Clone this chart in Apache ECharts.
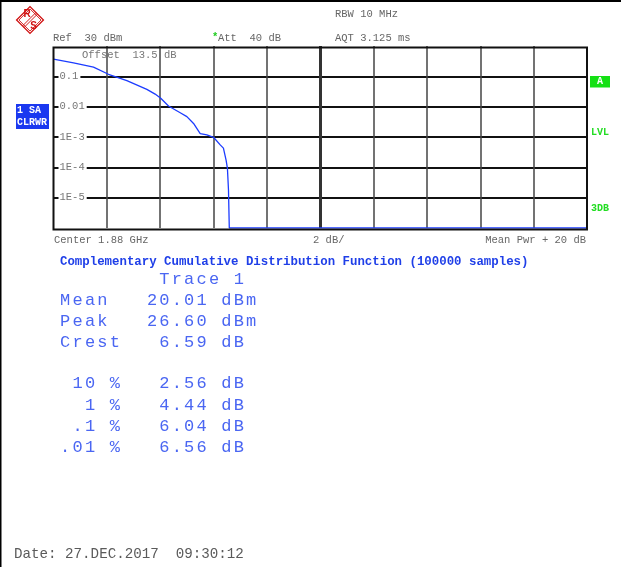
<!DOCTYPE html>
<html>
<head>
<meta charset="utf-8">
<script src="https://cdn.jsdelivr.net/npm/echarts@6/dist/echarts.min.js"></script>
<style>
html,body{margin:0;padding:0;background:#fff;}
#chart{width:621px;height:567px;}
</style>
</head>
<body>
<div id="chart"></div>
<script>
// ---- data ----
var ccdfDb   = [0, 0.75, 1.5, 2.06, 2.75, 3.5, 3.81, 4.02, 4.31, 4.75, 5.0, 5.25, 5.5, 5.75, 6.0, 6.25, 6.37, 6.47, 6.52, 6.56, 6.59, 20];
var ccdfProb = [0.37, 0.28, 0.20, 0.117, 0.072, 0.037, 0.026, 0.019, 0.0105, 0.0063, 0.0047, 0.0028, 0.0013, 0.00117, 0.00098, 0.00055, 0.00043, 0.000174, 0.000093, 0.000018, 0.000001, 0.000001];
var yTickLabels = ['1', '0.1', '0.01', '1E-3', '1E-4', '1E-5', '1E-6'];
var xMin = 0, xMax = 20, xStep = 2;
var headerTexts = ['Ref  30 dBm', 'Att  40 dB', 'RBW 10 MHz', 'AQT 3.125 ms', 'Offset  13.5 dB'];
var footerTexts = ['Center 1.88 GHz', '2 dB/', 'Mean Pwr + 20 dB'];
var titleText = 'Complementary Cumulative Distribution Function (100000 samples)';
var tableRows = [
  '        Trace 1',
  'Mean   20.01 dBm',
  'Peak   26.60 dBm',
  'Crest   6.59 dB',
  '',
  ' 10 %   2.56 dB',
  '  1 %   4.44 dB',
  ' .1 %   6.04 dB',
  '.01 %   6.56 dB'
];
var dateText = 'Date: 27.DEC.2017  09:30:12';

var MONO = "'Liberation Mono','Courier New',monospace";
var chart = echarts.init(document.getElementById('chart'), null, {renderer: 'canvas'});

var seriesData = ccdfDb.map(function (d, i) { return [d, ccdfProb[i]]; });

function txt(x, y, s, size, color, opts) {
  opts = opts || {};
  return {
    type: 'text', x: x, y: y, z: opts.z || 10, silent: true,
    style: {
      text: s, fill: color,
      font: (opts.bold ? 'bold ' : '') + size + 'px ' + MONO,
      align: opts.align || 'left', verticalAlign: 'middle'
    }
  };
}

var graphics = [];
// outer page border (top & left)
graphics.push({type: 'rect', shape: {x: 0, y: 0, width: 621, height: 2}, style: {fill: '#000'}, silent: true});
graphics.push({type: 'rect', shape: {x: 0, y: 0, width: 1.5, height: 567}, style: {fill: '#000'}, silent: true});
// plot frame
graphics.push({type: 'rect', z: 20, silent: true, shape: {x: 53.5, y: 47.5, width: 533.5, height: 182}, style: {fill: 'none', stroke: '#111', lineWidth: 2}});

// R&S logo
graphics.push({
  type: 'group', x: 30, y: 20, rotation: Math.PI / 4, silent: true,
  children: [
    {type: 'rect', shape: {x: -9.5, y: -9.5, width: 19, height: 19}, style: {fill: 'none', stroke: '#d01010', lineWidth: 1.3}},
    {type: 'rect', shape: {x: -7.8, y: -7.8, width: 15.6, height: 15.6}, style: {fill: 'none', stroke: '#d01010', lineWidth: 0.8}},
    {type: 'line', shape: {x1: -9.5, y1: -1.1, x2: 9.5, y2: -1.1}, style: {stroke: '#d01010', lineWidth: 0.9}},
    {type: 'line', shape: {x1: -9.5, y1: 1.1, x2: 9.5, y2: 1.1}, style: {stroke: '#d01010', lineWidth: 0.9}}
  ]
});
graphics.push({type: 'text', x: 27, y: 14.5, silent: true, style: {text: 'R', fill: '#d01010', font: 'bold 10px "Liberation Sans",Arial', align: 'center', verticalAlign: 'middle'}});
graphics.push({type: 'text', x: 33.5, y: 26, silent: true, style: {text: 'S', fill: '#d01010', font: 'bold 10px "Liberation Sans",Arial', align: 'center', verticalAlign: 'middle'}});

// header texts
graphics.push(txt(53, 38, headerTexts[0], 10.5, '#666'));
graphics.push(txt(212, 37, '*', 10.5, '#22cc22', {bold: true}));
graphics.push(txt(218, 38, headerTexts[1], 10.5, '#666'));
graphics.push(txt(335, 14, headerTexts[2], 10.5, '#666'));
graphics.push(txt(335, 38, headerTexts[3], 10.5, '#666'));
graphics.push(txt(82, 55, headerTexts[4], 10.5, '#777', {z: 5}));

// left trace box
graphics.push({type: 'rect', silent: true, shape: {x: 16, y: 104, width: 33, height: 25}, style: {fill: '#1a38f0'}});
graphics.push(txt(17, 110.5, '1 SA', 10, '#fff', {bold: true}));
graphics.push(txt(17, 122.5, 'CLRWR', 10, '#fff', {bold: true}));

// right green markers
graphics.push({type: 'rect', silent: true, shape: {x: 590, y: 76, width: 20, height: 11.5}, style: {fill: '#14e014'}});
graphics.push(txt(600, 81.8, 'A', 10, '#fff', {bold: true, align: 'center'}));
graphics.push(txt(591, 132, 'LVL', 10, '#22dd22', {bold: true}));
graphics.push(txt(591, 208, '3DB', 10, '#22dd22', {bold: true}));

// footer of plot
graphics.push(txt(54, 240, footerTexts[0], 10.5, '#666'));
graphics.push(txt(313, 240, footerTexts[1], 10.5, '#666'));
graphics.push(txt(586, 240, footerTexts[2], 10.5, '#666', {align: 'right'}));

// title
graphics.push(txt(60, 262, titleText, 12.4, '#1f3fe8', {bold: true}));

// table: monospace cells of 12.4 px, glyphs drawn a little smaller (thin Courier look)
var rowY = [279, 300.5, 321.5, 342.5, 363, 383.5, 405, 426, 447];
var cellW = 12.4, tableX = 59;
tableRows.forEach(function (r, i) {
  for (var c = 0; c < r.length; c++) {
    var ch = r.charAt(c);
    if (ch === ' ') continue;
    graphics.push(txt(tableX + c * cellW + cellW / 2, rowY[i], ch, 17, '#4a66f2', {align: 'center'}));
  }
});

// date
graphics.push(txt(14, 554, dateText, 14.2, '#5a5a5a'));

var option = {
  backgroundColor: '#fff',
  animation: false,
  grid: {left: 53.5, right: 34, top: 46, bottom: 339, containLabel: false},
  xAxis: {
    type: 'value', min: xMin, max: xMax, interval: xStep,
    axisLine: {show: false}, axisTick: {show: false}, axisLabel: {show: false},
    splitLine: {show: true, showMinLine: false, showMaxLine: false, lineStyle: {color: '#444', width: 1.5}}
  },
  yAxis: {
    type: 'log', logBase: 10, min: 1e-6, max: 1,
    axisLine: {show: false}, axisTick: {show: false},
    axisLabel: {
      show: true, inside: true, margin: 5, showMinLabel: false, showMaxLabel: false,
      color: '#777', fontFamily: MONO, fontSize: 10.5,
      backgroundColor: '#fff', padding: [0, 2, 0, 1],
      formatter: function (v) { var k = Math.round(-Math.log10(v)); return yTickLabels[k] || ''; }
    },
    splitLine: {show: true, showMinLine: false, showMaxLine: false, lineStyle: {color: '#111', width: 2}}
  },
  series: [{
    type: 'line', data: seriesData, showSymbol: false, symbol: 'none',
    lineStyle: {color: '#1c3cff', width: 1.3}, z: 15,
    markLine: {
      silent: true, symbol: 'none', label: {show: false},
      lineStyle: {color: '#333', width: 3, type: 'solid'},
      data: [{xAxis: (xMin + xMax) / 2}]
    }
  }],
  graphic: graphics
};
chart.setOption(option);
</script>
</body>
</html>
